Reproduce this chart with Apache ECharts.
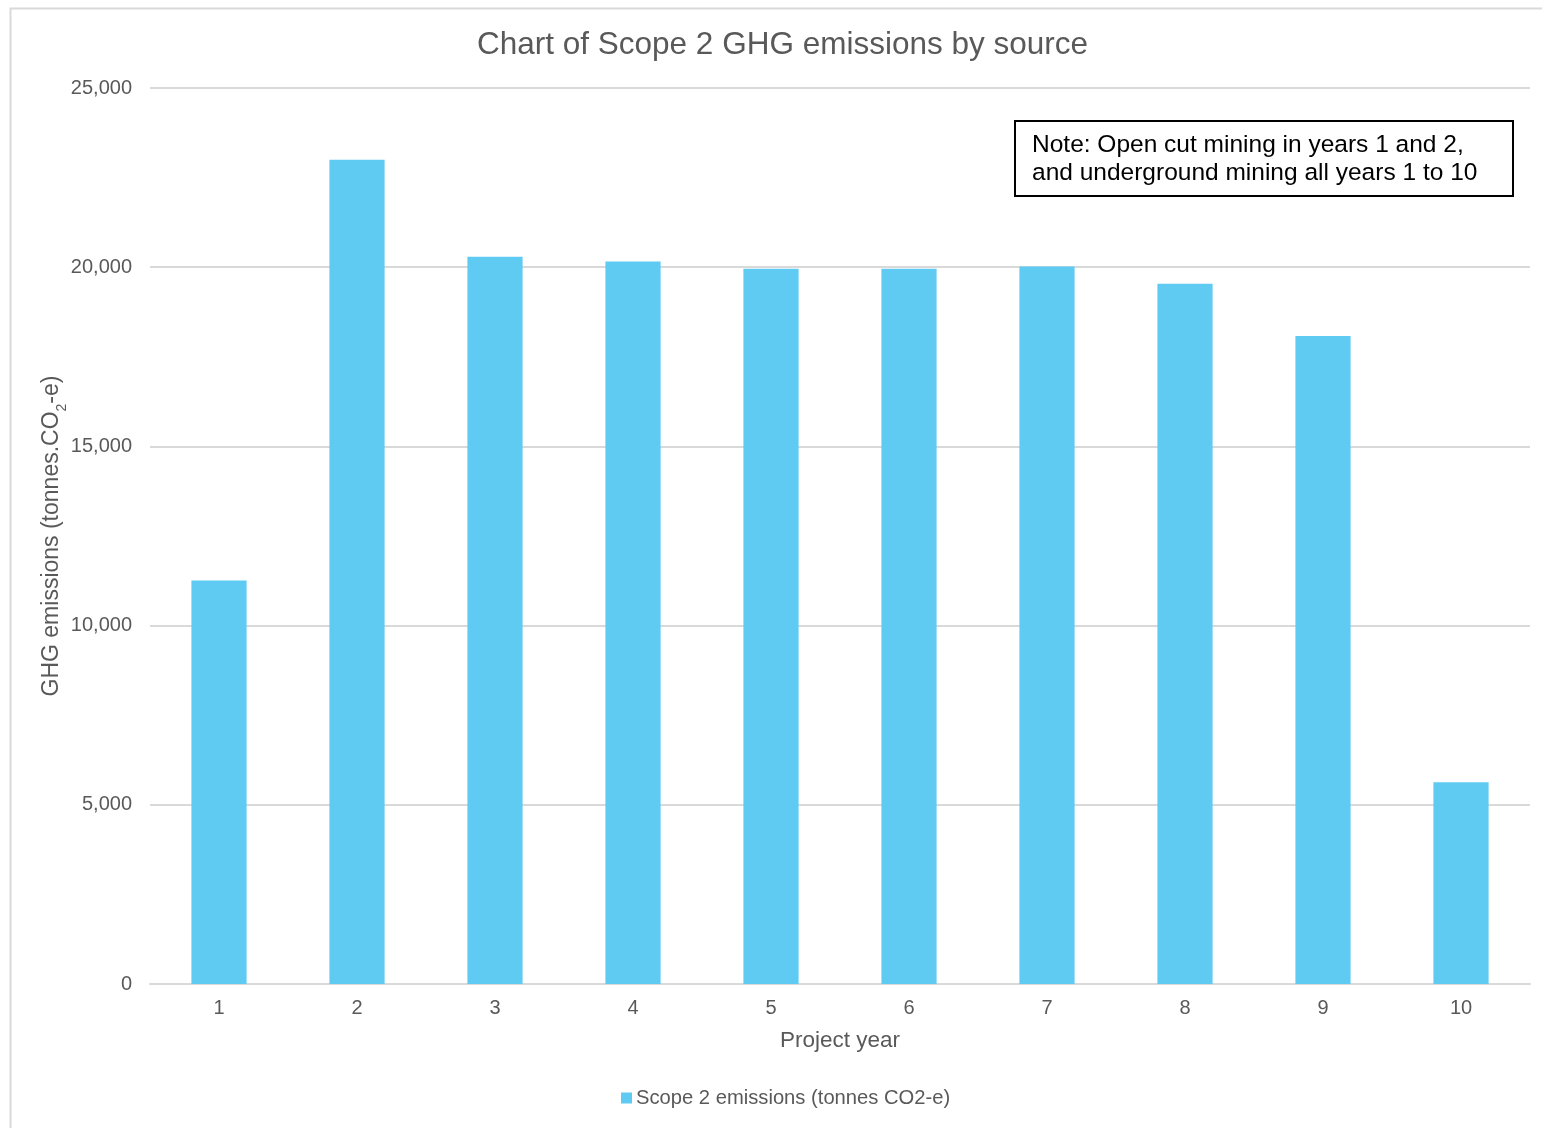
<!DOCTYPE html>
<html>
<head>
<meta charset="utf-8">
<title>Chart of Scope 2 GHG emissions by source</title>
<script src="https://cdn.jsdelivr.net/npm/echarts@6/dist/echarts.min.js"></script>
<style>
  html, body { margin: 0; padding: 0; background: #ffffff; }
  #chart { width: 1542px; height: 1128px; }
</style>
</head>
<body>
<div id="chart"></div>
<script>
// Project years (category axis)
const projectYears = ['1', '2', '3', '4', '5', '6', '7', '8', '9', '10'];
// Scope 2 emissions per project year, tonnes CO2-e
const scope2Emissions = [11260, 23000, 20290, 20160, 19960, 19960, 20020, 19540, 18080, 5630];
// Value axis range
const yMin = 0;
const yMax = 25000;
const yStep = 5000;

const seriesName = 'Scope 2 emissions (tonnes CO2-e)';
const noteLines = ['Note: Open cut mining in years 1 and 2,', 'and underground mining all years 1 to 10'];

const FONT = '"Liberation Sans", Arial, sans-serif';
const GREY_TEXT = '#595959';
const GRID_GREY = '#d9d9d9';
const BAR_BLUE = '#5fcbf2';

const chart = echarts.init(document.getElementById('chart'), null, { renderer: 'canvas' });

chart.setOption({
  backgroundColor: '#ffffff',
  animation: false,
  textStyle: { fontFamily: FONT },
  title: {
    text: 'Chart of Scope 2 GHG emissions by source',
    left: 472,
    top: 24,
    textStyle: { fontFamily: FONT, fontSize: 31.5, fontWeight: 'normal', color: GREY_TEXT }
  },
  legend: {
    bottom: 15,
    left: 616,
    itemWidth: 11,
    itemHeight: 11,
    itemGap: 4,
    icon: 'rect',
    textStyle: { fontFamily: FONT, fontSize: 20.2, color: GREY_TEXT, padding: [0, 0, 0, -1] },
    data: [seriesName]
  },
  grid: {
    left: 150,
    right: 12,
    top: 88,
    bottom: 144,
    containLabel: false
  },
  xAxis: {
    type: 'category',
    data: projectYears,
    name: 'Project year',
    nameLocation: 'middle',
    nameGap: 45,
    nameTextStyle: { fontFamily: FONT, fontSize: 22.5, color: GREY_TEXT },
    axisLine: { show: true, lineStyle: { color: GRID_GREY, width: 2 } },
    axisTick: { show: false },
    axisLabel: { fontFamily: FONT, fontSize: 20, color: GREY_TEXT, margin: 14 }
  },
  yAxis: {
    type: 'value',
    min: yMin,
    max: yMax,
    interval: yStep,
    name: '{n|GHG emissions (tonnes.CO}{s|2}{n|-e)}',
    nameLocation: 'middle',
    nameGap: 87,
    nameMoveOverlap: false,
    nameRotate: 90,
    nameTextStyle: {
      rich: {
        n: { fontFamily: FONT, fontSize: 23, color: GREY_TEXT },
        s: { fontFamily: FONT, fontSize: 14, color: GREY_TEXT, verticalAlign: 'bottom', padding: [0, 0, -6, 0] }
      }
    },
    axisLine: { show: false },
    axisTick: { show: false },
    splitLine: { show: true, lineStyle: { color: GRID_GREY, width: 2 } },
    axisLabel: {
      fontFamily: FONT,
      fontSize: 20,
      color: GREY_TEXT,
      margin: 18,
      formatter: v => v.toLocaleString('en-US')
    }
  },
  series: [{
    name: seriesName,
    type: 'bar',
    data: scope2Emissions,
    barWidth: '40%',
    itemStyle: { color: BAR_BLUE }
  }],
  graphic: [
    {
      // outer chart frame
      type: 'rect',
      left: 8,
      top: 6,
      shape: { width: 1600, height: 1200 },
      style: { fill: 'none', stroke: GRID_GREY, lineWidth: 2 },
      silent: true,
      z: -10
    },
    {
      // annotation box
      type: 'text',
      left: 1014,
      top: 120,
      style: {
        text: noteLines.join('\n'),
        fontFamily: FONT,
        fontSize: 24.5,
        lineHeight: 28,
        fill: '#000000',
        backgroundColor: '#ffffff',
        borderColor: '#000000',
        borderWidth: 2,
        padding: [9, 20, 8, 16],
        width: 460
      },
      z: 10
    }
  ]
});
</script>
</body>
</html>
